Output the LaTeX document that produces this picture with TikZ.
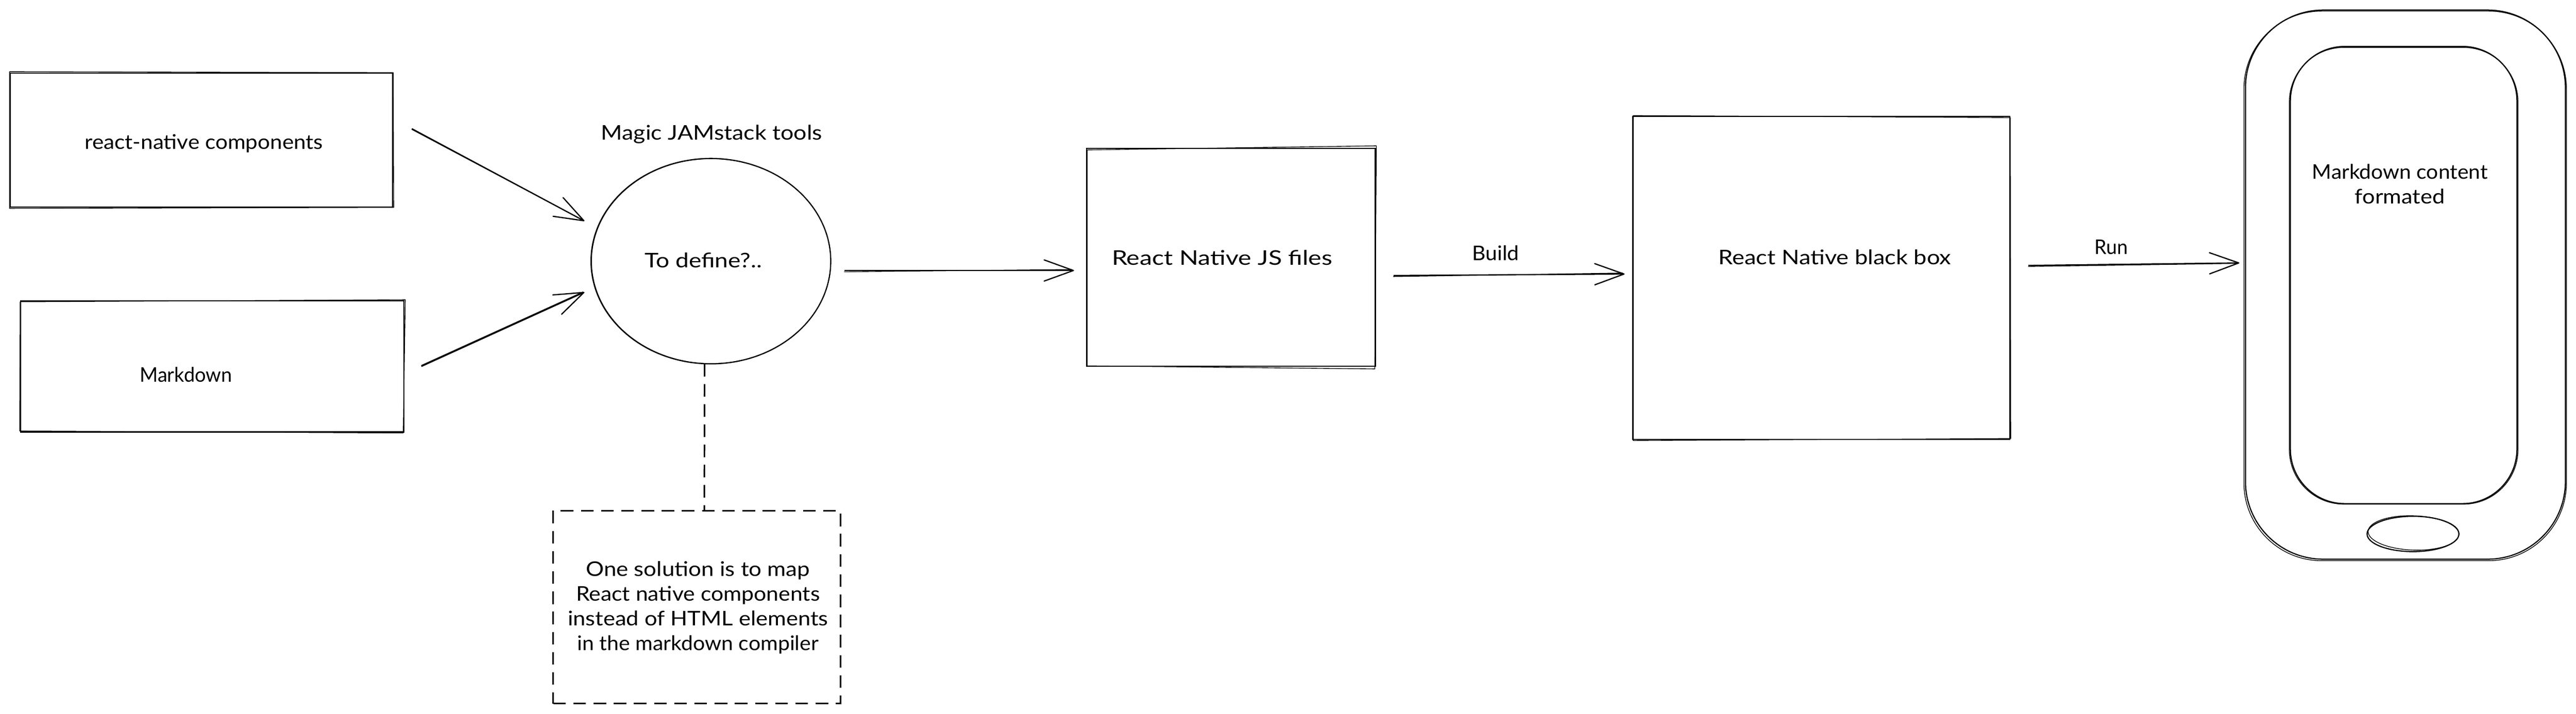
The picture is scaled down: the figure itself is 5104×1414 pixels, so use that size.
\documentclass[tikz,border=0pt]{standalone}
\usepackage{fontspec}
\usepackage{graphicx}
\setmainfont{Lato}
\usetikzlibrary{arrows.meta,shapes.geometric}
\newcommand{\fitw}[2]{\resizebox{#1}{\height}{#2}}
\tikzset{
  sk/.style={line width=1.15pt,draw=black,inner sep=0pt,outer sep=0pt},
  ov/.style={line width=.7pt,draw=black,line cap=round,line join=round},
  dashy/.style={line width=1.5pt,draw=black,dash pattern=on 12.5pt off 7.5pt},
  lbl/.style={font=\fontsize{20pt}{24.5pt}\selectfont,inner sep=0pt,outer sep=0pt,text=black,align=center},
  arr/.style={line width=1.2pt,draw=black,-{Straight Barb[length=29pt,width=21pt,round]}},
}
\begin{document}
\begin{tikzpicture}[x=.5pt,y=-.5pt]
\useasboundingbox (0,0) rectangle (5104,1414);
\fill[white] (0,0) rectangle (5104,1414);
% shapes
\node[sk,draw,rectangle,minimum width=379pt,minimum height=132.5pt] (box1) at (399,277.5) {};
\node[sk,draw,rectangle,minimum width=379.5pt,minimum height=130pt] (box2) at (420.5,726) {};
\node[sk,draw,ellipse,minimum width=237.5pt,minimum height=203.5pt] (ell) at (1408.5,517.5) {};
\node[sk,draw,rectangle,minimum width=286pt,minimum height=216pt] (js) at (2439,510) {};
\node[sk,draw,rectangle,minimum width=373.5pt,minimum height=320pt] (black) at (3608.5,551) {};
\node[draw,dashy,inner sep=0pt,outer sep=0pt,rectangle,minimum width=284.5pt,minimum height=191pt] (note) at (1380.5,1203) {};
\node[sk,draw,rectangle,rounded corners=77pt,minimum width=317pt,minimum height=544pt] (phone) at (4766,564) {};
\node[sk,draw,rectangle,rounded corners=54pt,minimum width=224.5pt,minimum height=453pt] (screen) at (4762.5,545) {};
\node[sk,draw,ellipse,minimum width=91pt,minimum height=35pt] (btn) at (4781,1058) {};
% second pencil passes
\draw[ov] ([shift={(-1,-3)}]box1.north west) -- ([shift={(1,-1)}]box1.north east) -- ([shift={(2,1)}]box1.south east) -- ([shift={(-1,3)}]box1.south west) -- cycle;
\draw[ov] ([shift={(-1,2)}]box2.north west) -- ([shift={(3,-2)}]box2.north east) -- ([shift={(-1,2)}]box2.south east) -- ([shift={(-2,-2)}]box2.south west) -- cycle;
\draw[ov] ([shift={(1,3)}]js.north west) -- ([shift={(2,-5)}]js.north east) -- ([shift={(-1,5)}]js.south east) -- ([shift={(1,-1)}]js.south west) -- cycle;
\draw[ov] ([shift={(1,-2)}]black.north west) -- ([shift={(1,2)}]black.north east) -- ([shift={(2,-2)}]black.south east) -- ([shift={(1,2)}]black.south west) -- cycle;
\draw[ov] ([shift={(.5,0)}]ell.center) ellipse [x radius=118.5pt,y radius=101.5pt];
\draw[ov,rounded corners=77pt] ([shift={(-3,3)}]phone.south west) rectangle ([shift={(2,2)}]phone.north east);
\draw[ov,rounded corners=54pt] ([shift={(-2,1)}]screen.south west) rectangle ([shift={(2,2)}]screen.north east);
\draw[ov] ([shift={(1,-2)}]btn.center) ellipse [x radius=45pt,y radius=17pt,rotate=-2];
% labels
\node[lbl] (t1) at (404,284) {\fitw{236pt}{react-native components}};
\node[lbl] (t2) at (368.5,742) {\fitw{91.5pt}{Markdown}};
\node[lbl] (t3) at (1410,266) {\fitw{219pt}{Magic JAMstack tools}};
\node[lbl] (t4) at (1394,516) {\fitw{116pt}{To define?..}};
\node[lbl] (t5) at (2421.5,511) {\fitw{218.5pt}{React Native JS files}};
\node[lbl] (t6) at (2963.5,501) {\fitw{46.5pt}{Build}};
\node[lbl] (t7) at (3635.5,510) {\fitw{230.5pt}{React Native black box}};
\node[lbl] (t8) at (4183,490) {\fitw{33pt}{Run}};
\node[lbl] (t9) at (4755,365) {\fitw{174pt}{Markdown content}\\\fitw{89pt}{formated}};
\node[lbl] (t10) at (1383,1204) {\fitw{222pt}{One solution is to map}\\\fitw{241.5pt}{React native components}\hspace*{10pt}\\\fitw{258pt}{instead of HTML elements}\\\fitw{239pt}{in the markdown compiler}};
% connectors
\draw[arr] ([shift={(38,-22.5)}]box1.east) -- ([shift={(-13,-79.5)}]ell.west);
\draw[ov] ([shift={(38,-21)}]box1.east) -- ([shift={(-16,-81)}]ell.west);
\draw[arr] ([shift={(35,0)}]box2.east) -- ([shift={(-13,61.5)}]ell.west);
\draw[ov] ([shift={(35,-2)}]box2.east) -- ([shift={(-16,61)}]ell.west);
\draw[arr] ([shift={(27,18.5)}]ell.east) -- ([shift={(-25,26)}]js.west);
\draw[ov] ([shift={(27,21)}]ell.east) -- ([shift={(-30,24)}]js.west);
\draw[arr] ([shift={(36,36)}]js.east) -- ([shift={(-16,-8)}]black.west);
\draw[ov] ([shift={(36,38)}]js.east) -- ([shift={(-20,-10)}]black.west);
\draw[arr] ([shift={(37,-25)}]black.east) -- ([shift={(-12,-43)}]phone.west);
\draw[ov] ([shift={(37,-23)}]black.east) -- ([shift={(-16,-42)}]phone.west);
\draw[dashy] ([xshift=-6.25pt]ell.south) -- ([xshift=7.5pt]note.north);
\end{tikzpicture}
\end{document}
